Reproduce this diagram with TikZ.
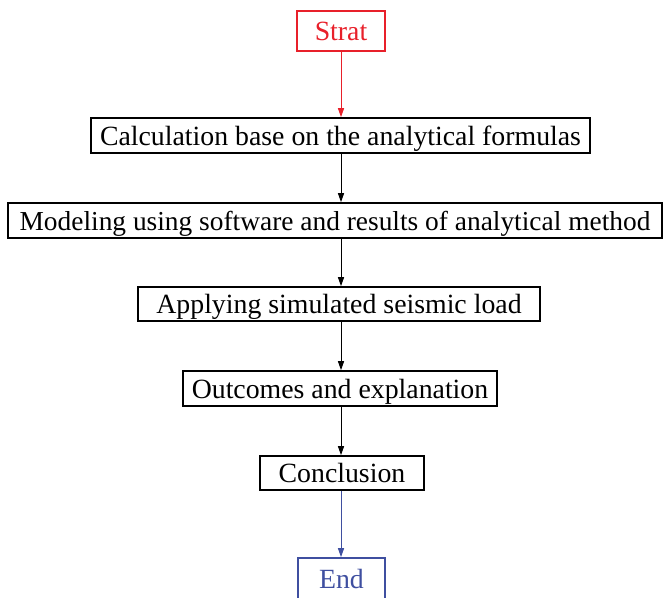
\documentclass[tikz,border=0pt]{standalone}
\usepackage{fontspec}
\setmainfont{Liberation Serif}
\usetikzlibrary{arrows.meta}
\definecolor{sred}{HTML}{E8202A}
\definecolor{eblue}{HTML}{3F4FA0}
\begin{document}
\begin{tikzpicture}[x=1pt,y=1pt,
  box/.style={draw, line width=1.6pt, inner sep=0pt, font=\fontsize{27.8}{30}\selectfont, anchor=center, text height=19pt, text depth=0pt},
  conn/.style={line width=1pt, -{Triangle[length=9pt,width=6pt]}}]
\useasboundingbox (0,0) rectangle (666,-597);
\clip (0,0) rectangle (666,-597);
\node[box, draw=sred, text=sred, minimum width=88pt, minimum height=40pt] (start) at (341,-31) {Strat};
\node[box, minimum width=499pt, minimum height=35pt] (calc) at (340.5,-135.5) {Calculation base on the analytical formulas};
\node[box, minimum width=654pt, minimum height=35pt, font=\fontsize{27.4}{30}\selectfont] (model) at (335,-220.5) {Modeling using software and results of analytical method};
\node[box, minimum width=402pt, minimum height=34pt] (apply) at (339,-304) {Applying simulated seismic load};
\node[box, minimum width=314pt, minimum height=35pt] (out) at (340,-388.5) {Outcomes and explanation};
\node[box, minimum width=164pt, minimum height=34pt] (concl) at (342,-473) {Conclusion};
\node[box, draw=eblue, text=eblue, minimum width=87pt, minimum height=50pt, text depth=8pt] (end) at (341.5,-583) {End};
\draw[conn, sred] (start.south) -- (start.south |- calc.north);
\draw[conn] (start.south |- calc.south) -- (start.south |- model.north);
\draw[conn] (start.south |- model.south) -- (start.south |- apply.north);
\draw[conn] (start.south |- apply.south) -- (start.south |- out.north);
\draw[conn] (start.south |- out.south) -- (start.south |- concl.north);
\draw[conn, eblue] (start.south |- concl.south) -- (start.south |- end.north);
\end{tikzpicture}
\end{document}
